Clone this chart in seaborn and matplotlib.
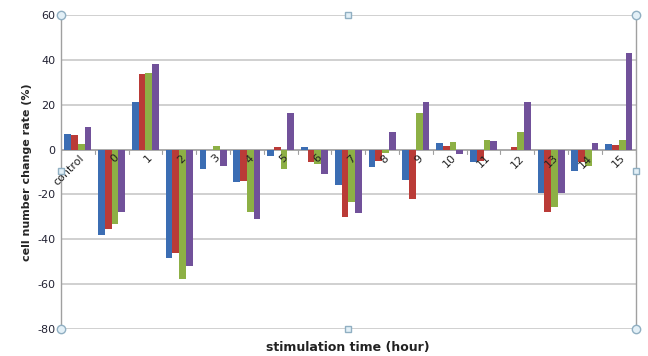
import matplotlib
matplotlib.use("Agg")
import matplotlib.pyplot as plt
import seaborn as sns
import pandas as pd

# categories (stimulation time)
categories = ["control", "0", "1", "2", "3", "4", "5", "6", "7",
              "8", "9", "10", "11", "12", "13", "14", "15"]

# four series (%)
series_1 = [7.0, -38.3, 21.0, -48.4, -8.6, -14.6, -2.7, 1.3, -15.7,
            -7.9, -13.5, 2.8, -5.7, 0.0, -19.5, -9.4, 2.6]
series_2 = [6.5, -35.5, 33.6, -46.2, 0.0, -14.2, 1.3, -5.7, -30.0,
            -5.3, -22.0, 1.5, -4.9, 1.3, -28.0, -5.7, 1.8]
series_3 = [2.5, -33.1, 33.9, -57.7, 1.6, -28.0, -8.9, -6.4, -23.6,
            -1.5, 16.4, 3.4, 4.2, 7.6, -25.7, -7.3, 4.3]
series_4 = [10.1, -28.0, 38.3, -52.0, -7.4, -30.9, 16.5, -11.1, -28.5,
            8.0, 21.0, -1.9, 3.7, 21.4, -19.5, 3.0, 43.0]

series_names = ["s1", "s2", "s3", "s4"]
colors = ["#3B6DB3", "#BA3B37", "#8DB045", "#71519A"]

rows = []
for name, vals in zip(series_names, [series_1, series_2, series_3, series_4]):
    for c, v in zip(categories, vals):
        rows.append({"time": c, "series": name, "value": v})
df = pd.DataFrame(rows)

sns.set_style("white")
plt.rcParams["axes.unicode_minus"] = False
fig = plt.figure(figsize=(6.48, 3.56), dpi=100)
ax = fig.add_axes([0.094, 0.076, 0.887, 0.882])

sns.barplot(data=df, x="time", y="value", hue="series", order=categories,
            hue_order=series_names, palette=colors, width=0.8,
            saturation=1, ax=ax, legend=False, zorder=3)
for p in ax.patches:
    p.set_edgecolor("none")

ax.set_ylim(-80, 60)
ax.set_xlim(-0.5, len(categories) - 0.5)
ax.set_yticks(range(-80, 61, 20))
ax.yaxis.grid(True, color="#C4C4C4", linewidth=1.1, zorder=0)
ax.tick_params(axis="y", labelsize=8, colors="#222233", length=0, pad=4)

for s in ["top", "bottom"]:
    ax.spines[s].set_visible(False)
for s in ["left", "right"]:
    ax.spines[s].set_color("#A0A0A0")
    ax.spines[s].set_linewidth(1)

# zero axis line with category separators
ax.axhline(0, color="#A0A0A0", linewidth=1.1, zorder=2)
ax.set_xticks([])
for i in range(len(categories) + 1):
    ax.plot([i - 0.5, i - 0.5], [0, -1.8], color="#A0A0A0", lw=0.8, zorder=2)

# category labels placed along the zero line
for i, c in enumerate(categories):
    ax.text(i + 0.05, -1.5, c, rotation=45, ha="right", va="top",
            rotation_mode="anchor", fontsize=8, color="#222222", zorder=5)

ax.set_xlabel("")
ax.set_ylabel("cell number change rate (%)", fontsize=8, fontweight="bold", labelpad=4)
fig.text(0.537, 0.025, "stimulation time (hour)", ha="center", va="center",
         fontsize=9, fontweight="bold", color="#222222")

# selection handles around the plot area
for (x, y) in [(0, 1), (1, 1), (0, 0), (1, 0)]:
    ax.plot(x, y, marker="o", markersize=6, markerfacecolor="#E3F0F7",
            markeredgecolor="#90AFC2", transform=ax.transAxes, clip_on=False, zorder=6)
for (x, y) in [(0.5, 1), (0.5, 0), (0, 0.502), (1, 0.502)]:
    ax.plot(x, y, marker="s", markersize=5, markerfacecolor="#E3F0F7",
            markeredgecolor="#90AFC2", transform=ax.transAxes, clip_on=False, zorder=6)

fig.savefig("out.png", dpi=100)
